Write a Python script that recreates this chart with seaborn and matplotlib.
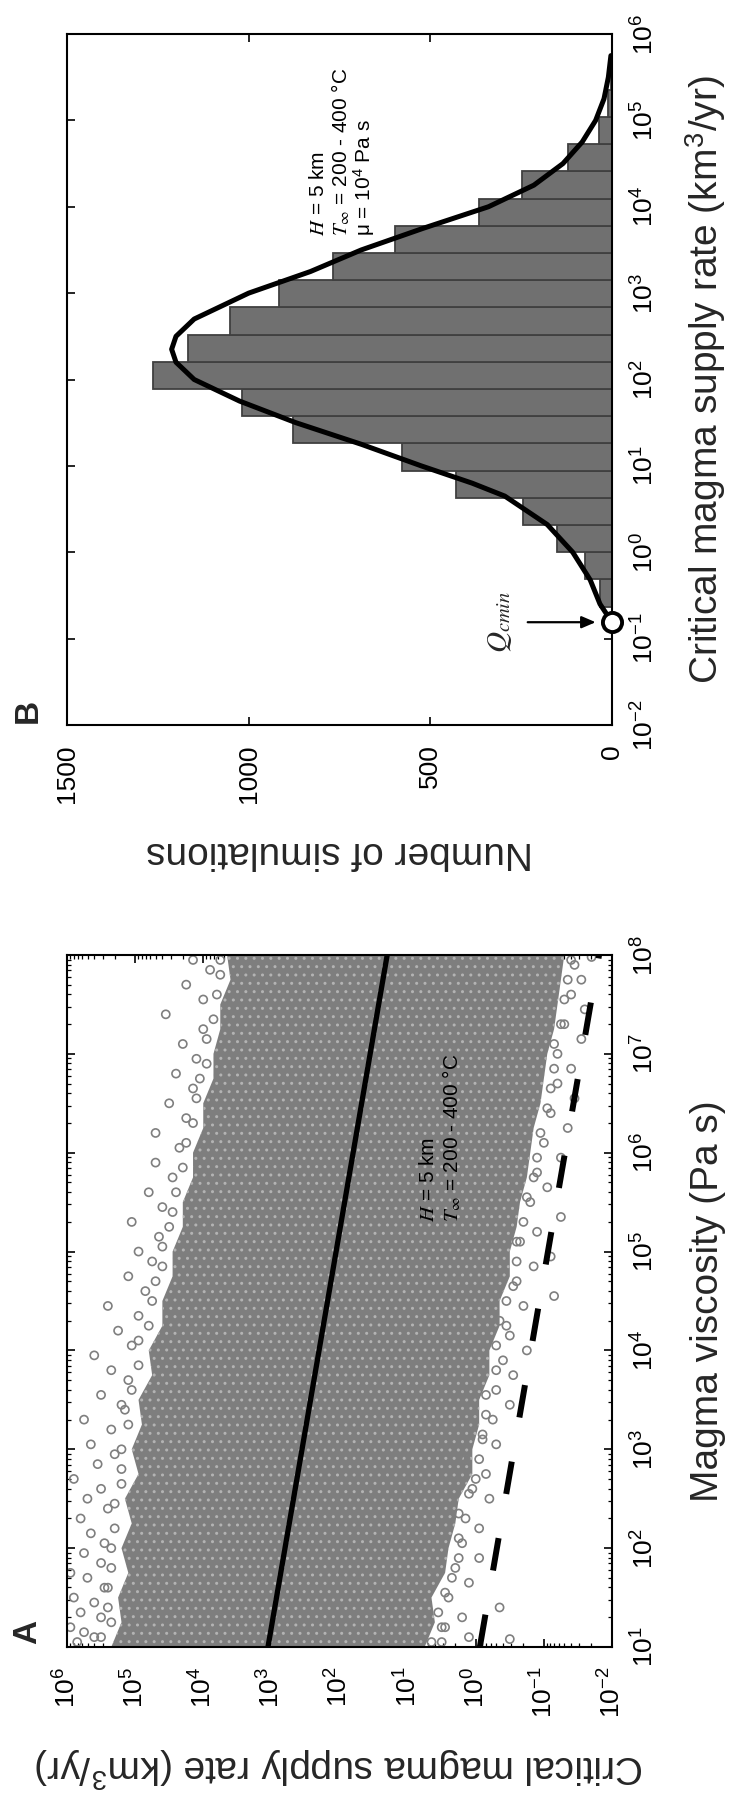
import numpy as np
import matplotlib
matplotlib.use("Agg")
import matplotlib.pyplot as plt
import seaborn as sns
from matplotlib.ticker import (FixedLocator, LogLocator, NullLocator,
                               NullFormatter, LogFormatterSciNotation)

# ---------------------------------------------------------------- data
# Panel A  (all values are log10 exponents)
band_log_mu = [1.0, 1.25, 1.5, 1.75, 2.0, 2.25, 2.5, 2.75, 3.0, 3.25, 3.5, 3.75, 4.0, 4.25, 4.5,
               4.75, 5.0, 5.25, 5.5, 5.75, 6.0, 6.25, 6.5, 6.75, 7.0, 7.25, 7.5, 7.75, 8.0]
band_log_q_high = [5.35, 5.2, 5.25, 5.1, 5.2, 5.05, 5.15, 4.95, 5.05, 4.9, 4.95, 4.75, 4.8, 4.6, 4.6,
                   4.45, 4.45, 4.3, 4.3, 4.15, 4.15, 4.0, 4.0, 3.85, 3.85, 3.75, 3.75, 3.6, 3.65]
band_log_q_low = [0.75, 0.6, 0.65, 0.45, 0.4, 0.3, 0.25, 0.05, 0.05, -0.05, -0.05, -0.2, -0.2, -0.35, -0.35,
                  -0.5, -0.5, -0.6, -0.65, -0.75, -0.8, -0.85, -0.95, -1.0, -1.05, -1.15, -1.2, -1.25, -1.3]

scatter_log_mu = [
    # high-q fringe
    1.05, 1.1, 1.15, 1.2, 1.3, 1.35, 1.45, 1.5, 1.6, 1.7, 1.75, 1.85, 1.95, 2.05, 2.15,
    2.3, 2.4, 2.5, 2.6, 2.7, 2.85, 2.95, 3.05, 3.2, 3.3, 3.45, 3.55, 3.7, 3.8, 3.95,
    4.05, 4.2, 4.35, 4.45, 4.6, 4.75, 4.9, 5.0, 5.15, 5.3, 5.45, 5.6, 5.75, 5.9, 6.05,
    6.2, 6.35, 6.5, 6.65, 6.8, 6.95, 7.1, 7.25, 7.4, 7.55, 7.7, 7.85, 7.95,
    1.1, 1.25, 1.4, 1.6, 1.8, 2.0, 2.2, 2.45, 2.65, 2.8, 3.0, 3.25, 3.4, 3.6, 3.85,
    4.1, 4.25, 4.5, 4.7, 4.85, 5.05, 5.25, 5.4, 5.6, 5.85, 6.1, 6.3, 6.55, 6.75, 6.9,
    7.15, 7.35, 7.6, 7.8, 7.95,
    # low-q fringe
    1.05, 1.2, 1.35, 1.55, 1.7, 1.9, 2.1, 2.3, 2.55, 2.7, 2.9, 3.1, 3.35, 3.55, 3.8,
    4.05, 4.25, 4.5, 4.65, 4.9, 5.1, 5.3, 5.55, 5.75, 5.95, 6.2, 6.45, 6.65, 6.85, 7.1,
    7.3, 7.55, 7.75, 7.95,
    1.05, 1.1, 1.2, 1.3, 1.4, 1.5, 1.65, 1.8, 1.9, 2.05, 2.2, 2.35, 2.5, 2.6, 2.75,
    2.9, 3.05, 3.15, 3.3, 3.45, 3.6, 3.75, 3.9, 4.0, 4.15, 4.3, 4.45, 4.55, 4.7, 4.85,
    4.95, 5.1, 5.2, 5.35, 5.5, 5.65, 5.8, 5.95, 6.1, 6.25, 6.4, 6.55, 6.7, 6.85, 7.0,
    7.15, 7.3, 7.45, 7.6, 7.75, 7.9, 7.98, 1.08]
scatter_log_q = [
    5.85, 5.6, 5.75, 5.95, 5.5, 5.8, 5.6, 5.9, 5.45, 5.7, 5.95, 5.5, 5.75, 5.45, 5.65,
    5.8, 5.4, 5.7, 5.5, 5.9, 5.55, 5.3, 5.65, 5.35, 5.75, 5.2, 5.5, 5.1, 5.35, 5.6,
    5.05, 5.25, 4.95, 5.4, 4.85, 5.1, 4.75, 4.95, 4.65, 5.05, 4.6, 4.8, 4.45, 4.7, 4.35,
    4.7, 4.25, 4.5, 4.15, 4.4, 4.1, 4.3, 4.0, 4.55, 4.0, 4.25, 3.9, 4.15,
    5.5, 5.35, 5.4, 5.4, 5.35, 5.35, 5.3, 5.3, 5.2, 5.2, 5.2, 5.1, 5.15, 5.05, 4.95,
    4.95, 4.8, 4.75, 4.7, 4.6, 4.6, 4.5, 4.45, 4.4, 4.3, 4.25, 4.15, 4.1, 4.05, 3.95,
    3.95, 3.85, 3.8, 3.75, 3.75,
    0.65, 0.5, 0.55, 0.45, 0.35, 0.25, 0.25, 0.15, 0.1, 0.0, -0.05, -0.1, -0.15, -0.15, -0.3,
    -0.3, -0.45, -0.45, -0.55, -0.6, -0.6, -0.7, -0.75, -0.85, -0.9, -0.95, -1.05, -1.1, -1.15, -1.15,
    -1.25, -1.3, -1.35, -1.4,
    0.5, 0.1, 0.45, 0.2, -0.35, 0.4, 0.1, 0.3, -0.05, 0.2, -0.05, 0.25, -0.2, 0.05, -0.15,
    0.15, -0.3, -0.1, -0.25, -0.5, -0.3, -0.55, -0.4, -0.75, -0.5, -0.35, -0.7, -1.15, -0.6, -0.85,
    -1.1, -0.65, -0.9, -1.25, -0.8, -1.05, -0.9, -1.25, -1.0, -1.35, -1.1, -1.45, -1.2, -1.4, -1.2,
    -1.55, -1.3, -1.6, -1.4, -1.55, -1.45, -1.7, -0.5]

trend_log_mu = [1.0, 8.0]
trend_log_q = [3.05, 1.30]
bound_log_mu = [1.0, 8.0]
bound_log_q = [-0.06, -1.81]

mu_tick_exp = [1, 2, 3, 4, 5, 6, 7, 8]
qA_tick_exp = [-2, -1, 0, 1, 2, 3, 4, 5, 6]

# Panel B
hist_edges_log_q = [-0.630, -0.315, 0.000, 0.315, 0.630, 0.945, 1.260, 1.575, 1.890, 2.205,
                    2.520, 2.835, 3.150, 3.465, 3.780, 4.095, 4.410, 4.725, 5.040, 5.355, 5.670]
hist_counts = [33, 74, 151, 245, 430, 577, 878, 1019, 1263, 1167,
               1051, 917, 769, 596, 365, 248, 121, 35, 12, 4]

curve_log_q = [-0.81, -0.60, -0.32, 0.00, 0.32, 0.65, 0.80, 1.00, 1.25, 1.50, 1.75, 2.00,
               2.20, 2.35, 2.50, 2.70, 3.00, 3.25, 3.50, 3.75, 4.00, 4.25, 4.50, 4.75,
               5.00, 5.25, 5.50, 5.75]
curve_counts = [0, 33, 60, 108, 178, 295, 385, 525, 690, 870, 1025, 1150,
                1200, 1212, 1200, 1150, 1000, 830, 690, 520, 340, 215, 135, 82,
                45, 22, 10, 3]

qcmin_log = -0.81
qB_tick_exp = [-2, -1, 0, 1, 2, 3, 4, 5, 6]
count_ticks = [0, 500, 1000, 1500]

# ---------------------------------------------------------------- style
sns.set_theme(style="white")
plt.rcParams["font.family"] = ["Liberation Sans", "DejaVu Sans"]
plt.rcParams["mathtext.fontset"] = "stix"
plt.rcParams["hatch.color"] = "#b3b3b3"
plt.rcParams["hatch.linewidth"] = 1.0

FS_TICK = 19
FS_LABEL = 28
FS_NOTE = 15
GREY_PTS = "#7f7f7f"

W, H = 730, 1802
fig = plt.figure(figsize=(W / 100, H / 100), dpi=100)
fig.patch.set_facecolor("white")


def box(l, t, r, b):
    return [l / W, 1 - b / H, (r - l) / W, (b - t) / H]


axA = fig.add_axes(box(67, 955, 612, 1647))
axB = fig.add_axes(box(67, 34, 612, 725))

# ---------------------------------------------------------------- panel A
axA.set_xscale("log")
axA.set_yscale("log")

mu_band = 10.0 ** np.array(band_log_mu)
axA.fill_betweenx(mu_band, 10.0 ** np.array(band_log_q_high), 10.0 ** np.array(band_log_q_low),
                  facecolor="#7e7e7e", edgecolor="#b3b3b3", linewidth=0, hatch="..", zorder=1)

sns.scatterplot(x=10.0 ** np.array(scatter_log_q), y=10.0 ** np.array(scatter_log_mu),
                ax=axA, marker="o", s=34, facecolor="none", edgecolor=GREY_PTS,
                linewidth=1.2, zorder=2, legend=False)

sns.lineplot(x=10.0 ** np.array(trend_log_q), y=10.0 ** np.array(trend_log_mu), ax=axA,
             color="black", linewidth=3.8, sort=False, estimator=None, zorder=4)
sns.lineplot(x=10.0 ** np.array(bound_log_q), y=10.0 ** np.array(bound_log_mu), ax=axA,
             color="black", linewidth=4.3, linestyle=(0, (5.5, 7.5)), sort=False,
             estimator=None, zorder=4)

axA.set_xlim(1e6, 1e-2)
axA.set_ylim(1e1, 1e8)

# ---------------------------------------------------------------- panel B
centers = 10.0 ** ((np.array(hist_edges_log_q[:-1]) + np.array(hist_edges_log_q[1:])) / 2)
sns.histplot(y=centers, weights=hist_counts, bins=hist_edges_log_q, ax=axB,
             log_scale=(False, True), stat="count", element="bars", fill=True,
             color="#707070", edgecolor="#404040", linewidth=1.3, alpha=1.0, zorder=2)

sns.lineplot(x=curve_counts, y=10.0 ** np.array(curve_log_q), ax=axB, color="black",
             linewidth=3.6, sort=False, estimator=None, zorder=4)

qmin = 10.0 ** qcmin_log
sns.scatterplot(x=[0], y=[qmin], ax=axB, marker="o", s=190, facecolor="white",
                edgecolor="black", linewidth=2.8, zorder=6, clip_on=False, legend=False)
axB.annotate("", xy=(45, qmin), xytext=(232, qmin),
             arrowprops=dict(arrowstyle="-|>,head_length=0.7,head_width=0.3",
                             lw=1.6, color="black", shrinkA=0, shrinkB=0))
axB.text(308, qmin, r"$Q_{cmin}$", rotation=90, ha="center", va="center", fontsize=21)

axB.set_xlim(1500, 0)
axB.set_ylim(1e-2, 1e6)


# ---------------------------------------------------------------- axes styling
def style_axes(ax):
    for s in ax.spines.values():
        s.set_visible(True)
        s.set_color("black")
        s.set_linewidth(1.5)
    ax.tick_params(which="both", direction="in", top=True, bottom=True, left=True, right=True,
                   labelbottom=True, labeltop=False, labelleft=False, labelright=True,
                   colors="black", labelsize=FS_TICK, pad=14)
    ax.tick_params(which="major", length=6, width=1.2)
    ax.tick_params(which="minor", length=3, width=0.9)
    ax.tick_params(axis="x", labelrotation=90)
    ax.tick_params(axis="y", labelrotation=90)
    ax.grid(False)
    ax.set_facecolor("white")


style_axes(axA)
style_axes(axB)

axA.xaxis.set_major_locator(FixedLocator(10.0 ** np.array(qA_tick_exp, dtype=float)))
axA.xaxis.set_minor_locator(LogLocator(base=10, subs=np.arange(2, 10), numticks=100))
axA.xaxis.set_major_formatter(LogFormatterSciNotation())
axA.xaxis.set_minor_formatter(NullFormatter())
axA.yaxis.set_major_locator(FixedLocator(10.0 ** np.array(mu_tick_exp, dtype=float)))
axA.yaxis.set_minor_locator(LogLocator(base=10, subs=np.arange(2, 10), numticks=100))
axA.yaxis.set_major_formatter(LogFormatterSciNotation())
axA.yaxis.set_minor_formatter(NullFormatter())

axB.xaxis.set_major_locator(FixedLocator(count_ticks))
axB.xaxis.set_minor_locator(NullLocator())
axB.yaxis.set_major_locator(FixedLocator(10.0 ** np.array(qB_tick_exp, dtype=float)))
axB.yaxis.set_minor_locator(NullLocator())
axB.yaxis.set_major_formatter(LogFormatterSciNotation())
axB.yaxis.set_minor_formatter(NullFormatter())

for ax in (axA, axB):
    for t in ax.get_yticklabels():
        t.set_va("center")

supply_label = r"Critical magma supply rate (km$^{\mathdefault{3}}$/yr)"

axA.set_xlabel(supply_label, fontsize=FS_LABEL, rotation=180, ha="center", va="center")
axA.xaxis.set_label_coords(0.5, (1647 - 1767) / 692)
axA.yaxis.set_label_position("right")
axA.set_ylabel("Magma viscosity (Pa s)", fontsize=FS_LABEL, rotation=90, ha="center", va="center")
axA.yaxis.set_label_coords((708 - 67) / 545, 0.5)

axB.set_xlabel("Number of simulations", fontsize=FS_LABEL, rotation=180, ha="center", va="center")
axB.xaxis.set_label_coords(0.5, (725 - 852) / 691)
axB.yaxis.set_label_position("right")
axB.set_ylabel(supply_label, fontsize=FS_LABEL, rotation=90, ha="center", va="center")
axB.yaxis.set_label_coords((706 - 67) / 545, 0.5)


# annotations (text reads bottom-to-top)
def note(x_px, y_bottom_px, s):
    fig.text(x_px / W, 1 - y_bottom_px / H, s, rotation=90, ha="center", va="bottom",
             fontsize=FS_NOTE, color="black", zorder=10)


note(429, 1222, r"$H$ = 5 km")
note(452, 1222, r"$T_{\infty}$ = 200 - 400 °C")

note(318, 236, r"$H$ = 5 km")
note(341, 236, r"$T_{\infty}$ = 200 - 400 °C")
note(364, 236, r"μ = $\mathdefault{10^{4}}$ Pa s")

fig.text(28 / W, 1 - 1632 / H, "A", rotation=90, ha="center", va="center",
         fontsize=24, fontweight="bold")
fig.text(28 / W, 1 - 711 / H, "B", rotation=90, ha="center", va="center",
         fontsize=24, fontweight="bold")

fig.savefig("out.png", dpi=100, facecolor="white")
